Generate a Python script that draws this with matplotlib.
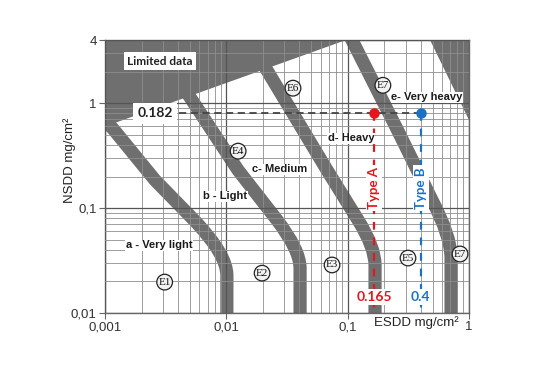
import numpy as np
import matplotlib
matplotlib.use("Agg")
import matplotlib.pyplot as plt
from matplotlib.path import Path
from matplotlib.patches import PathPatch, Polygon
from matplotlib.ticker import NullFormatter

plt.rcParams['font.family'] = ['Liberation Sans', 'DejaVu Sans']

# axes
x_ticks = [0.001, 0.01, 0.1, 1]
x_ticklabels = ['0,001', '0,01', '0,1', '1']
y_ticks = [0.01, 0.1, 1, 4]
y_ticklabels = ['0,01', '0,1', '1', '4']

# class boundary bands (ESDD, NSDD centre line); last 3 points = rounded bend + vertical end
band_ab_x = [0.00102, 0.00119, 0.00258, 0.00562, 0.0101, 0.0101, 0.0101]
band_ab_y = [0.674, 0.553, 0.185, 0.0736, 0.0357, 0.0230, 0.0069]
band_bc_x = [0.00448, 0.01248, 0.02616, 0.0405, 0.0405, 0.0405]
band_bc_y = [1.39, 0.230, 0.0769, 0.0398, 0.0268, 0.0069]
band_cd_x = [0.0197, 0.0676, 0.1217, 0.168, 0.168, 0.168]
band_cd_y = [2.46, 0.230, 0.0769, 0.0425, 0.0287, 0.0069]
band_de_x = [0.1045, 0.270, 0.4955, 0.711, 0.711, 0.711]
band_de_y = [4.35, 0.496, 0.119, 0.0541, 0.0334, 0.0069]

# "limited data" areas
limited_left_x = [0.001, 0.001, 0.097]
limited_left_y = [4, 0.60, 4]
limited_right_x = [0.477, 1, 1]
limited_right_y = [4, 0.69, 4]

class_names = ['a - Very light', 'b - Light', 'c- Medium', 'd- Heavy', 'e- Very heavy']
class_x = [0.00279, 0.00975, 0.0277, 0.1066, 0.451]
class_y = [0.0444, 0.130, 0.235, 0.464, 1.14]

e_labels = ['E1', 'E2', 'E3', 'E4', 'E5', 'E6', 'E7', 'E7']
e_x = [0.0031, 0.0197, 0.0743, 0.0125, 0.314, 0.0354, 0.195, 0.843]
e_y = [0.0197, 0.024, 0.0287, 0.349, 0.0334, 1.39, 1.48, 0.0365]

nsdd_value = 0.8
nsdd_label = '0.182'
esdd_a = 0.165
esdd_b = 0.4

grey = '#6f6f6f'
red = '#e8151b'
blue = '#1b72c4'

fig = plt.figure(figsize=(5.38, 3.80), dpi=100)
ax = fig.add_axes([0.1952, 0.1763, 0.6766, 0.7184])
ax.set_xscale('log')
ax.set_yscale('log')
ax.set_xlim(0.001, 1)
ax.set_ylim(0.01, 4)

# bands
for bx, by in [(band_ab_x, band_ab_y), (band_bc_x, band_bc_y),
               (band_cd_x, band_cd_y), (band_de_x, band_de_y)]:
    n = len(bx)
    codes = [Path.MOVETO] + [Path.LINETO] * (n - 4) + [Path.CURVE3, Path.CURVE3, Path.LINETO]
    p = Path(np.column_stack([bx, by]), codes)
    ax.add_patch(PathPatch(p, fill=False, ec=grey, lw=9.5, capstyle='butt',
                           joinstyle='round', zorder=1))

ax.add_patch(Polygon(np.column_stack([limited_left_x, limited_left_y]),
                     closed=True, fc=grey, ec='none', zorder=1.2))
ax.add_patch(Polygon(np.column_stack([limited_right_x, limited_right_y]),
                     closed=True, fc=grey, ec='none', zorder=1.2))

# grid over everything
ax.set_axisbelow(False)
ax.grid(which='major', color='#555555', lw=0.9)
ax.grid(which='minor', color='#8e8e8e', lw=0.6)
ax.xaxis.set_minor_formatter(NullFormatter())
ax.yaxis.set_minor_formatter(NullFormatter())
ax.set_xticks(x_ticks, x_ticklabels)
ax.set_yticks(y_ticks, y_ticklabels)
ax.tick_params(which='minor', length=0)
ax.tick_params(which='major', length=4, color='#666666', labelsize=9.5,
               labelcolor='#333333', pad=2)
for s in ax.spines.values():
    s.set_color('#666666')
    s.set_linewidth(1.0)

# dashed reference lines
ax.plot([0.0041, esdd_b], [nsdd_value, nsdd_value], ls=(0, (4, 2.5)), color='#444444',
        lw=1.3, zorder=3)
ax.plot([esdd_a, esdd_a], [0.008, nsdd_value], ls=(0, (3.5, 3.5)), color=red, lw=1.6, zorder=3)
ax.plot([esdd_b, esdd_b], [0.008, nsdd_value], ls=(0, (3.5, 3.5)), color=blue, lw=1.6, zorder=3)
ax.plot([esdd_a], [nsdd_value], 'o', color=red, ms=6.5, zorder=4)
ax.plot([esdd_b], [nsdd_value], 'o', color=blue, ms=6.5, zorder=4)

box = dict(boxstyle='square,pad=0.15', fc='white', ec='none')
ax.text(0.00258, nsdd_value, nsdd_label, family=['Lato', 'DejaVu Sans'], fontweight='bold',
        fontsize=10, ha='center', va='center', color='#222222', zorder=5,
        bbox=dict(boxstyle='square,pad=0.3', fc='white', ec='none'))
ax.text(0.00284, 2.51, 'Limited data', family=['Lato', 'DejaVu Sans'], fontweight='bold',
        fontsize=8.5, ha='center', va='center', color='#222222', zorder=5,
        bbox=dict(boxstyle='square,pad=0.3', fc='white', ec='none'))
ax.text(esdd_a, 0.155, 'Type A', family=['Lato', 'DejaVu Sans'], fontweight='bold',
        fontsize=9.5, rotation=90, ha='center', va='center', color=red, zorder=5, bbox=box)
ax.text(esdd_b, 0.155, 'Type B', family=['Lato', 'DejaVu Sans'], fontweight='bold',
        fontsize=9.5, rotation=90, ha='center', va='center', color=blue, zorder=5, bbox=box)
ax.text(esdd_a, 0.0142, '0.165', family=['Lato', 'DejaVu Sans'], fontweight='bold',
        fontsize=10, ha='center', va='center', color=red, zorder=5, bbox=box)
ax.text(esdd_b, 0.0142, '0.4', family=['Lato', 'DejaVu Sans'], fontweight='bold',
        fontsize=10, ha='center', va='center', color=blue, zorder=5, bbox=box)

for name, cx, cy in zip(class_names, class_x, class_y):
    ax.text(cx, cy, name, fontsize=8, fontweight='bold', ha='center', va='center',
            color='#1a1a1a', zorder=5,
            bbox=dict(boxstyle='square,pad=0.05', fc='white', ec='none'))

for lab, ex, ey in zip(e_labels, e_x, e_y):
    ax.text(ex, ey, lab, family=['Liberation Serif', 'DejaVu Serif'], fontsize=8,
            ha='center', va='center', color='#111111', zorder=5,
            bbox=dict(boxstyle='circle,pad=0.15', fc='#f2f2f2', ec='#222222', lw=0.9))

ax.set_xlabel('ESDD mg/cm²', fontsize=9.5, color='#222222')
ax.xaxis.set_label_coords(0.854, -0.012)
ax.set_ylabel('NSDD mg/cm²', fontsize=9.5, color='#222222')
ax.yaxis.set_label_coords(-0.08, 0.56)

fig.savefig('out.png', dpi=100)
